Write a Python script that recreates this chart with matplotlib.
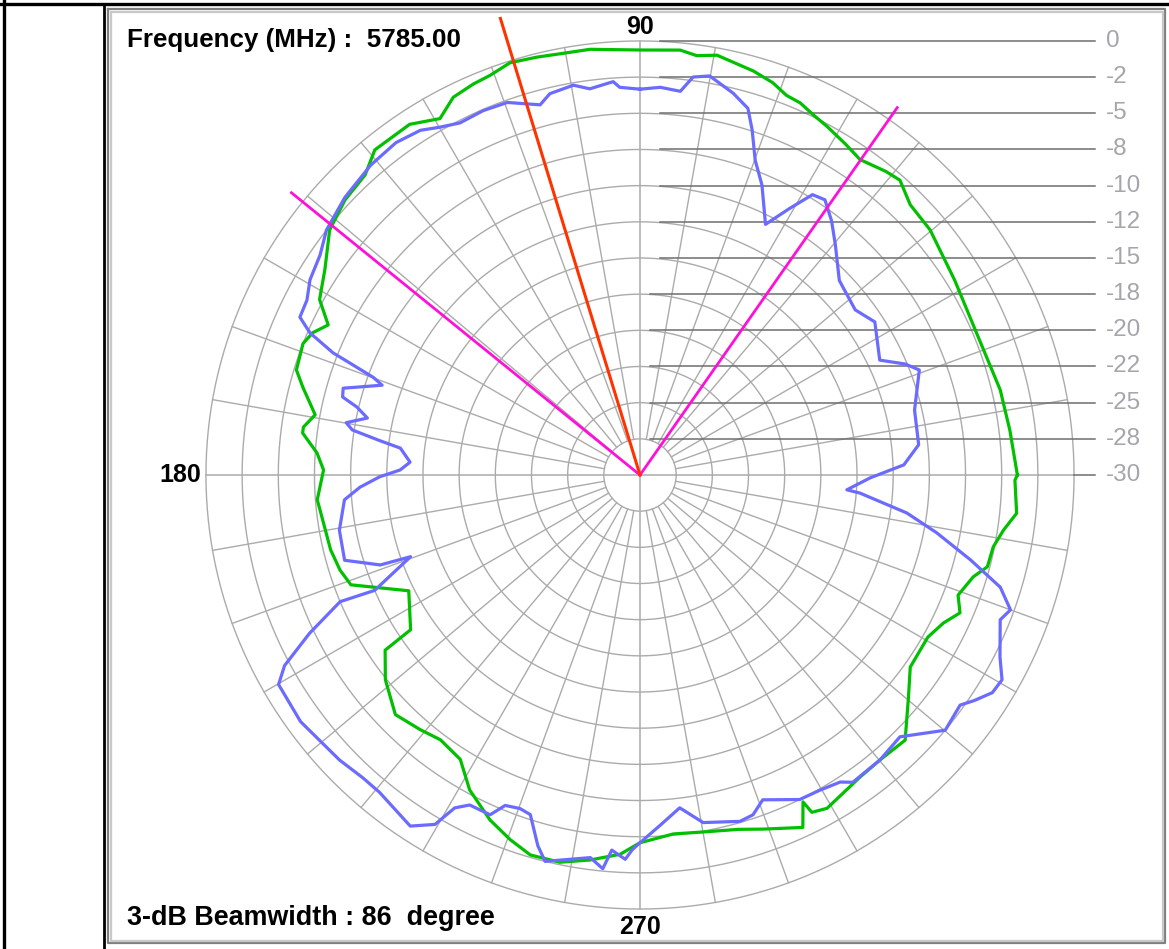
import numpy as np
import matplotlib.pyplot as plt
from matplotlib.lines import Line2D

plt.rcParams['font.family'] = ['Liberation Sans', 'DejaVu Sans']

# 동심원 눈금 (바깥 -> 중심)
ring_db = [0, -2, -5, -8, -10, -12, -15, -18, -20, -22, -25, -28, -30]
angle_labels = [90, 180, 270]

freq_mhz = 5785.00
beam_right = 55
beamwidth = 86
peak_angle = 107

# 측정 패턴 1 (초록)
green_ang = [0, 6.9, 13.3, 23.4, 31.8, 40.2, 45, 48.6, 51, 55.1, 58.1, 61.7, 64.3, 66.7, 68.9,
             71.3, 74.3, 77.3, 79.6, 82.3, 84.6, 90, 96.7, 100.3, 103.9, 107.5, 110.6, 113.1,
             116.3, 119.3, 123.3, 129.2, 132.5, 137, 141.7, 146.9, 151.3, 154.3, 156.5, 158.7,
             163, 165.4, 169.5, 171.9, 172.9, 176.1, 179.1, 184.4, 186.2, 193.6, 197.6, 200.8,
             206.6, 214, 214.5, 218.8, 224.4, 229.2, 233, 237.7, 241.6, 246.5, 250.4, 253.9,
             258.3, 262.6, 267, 270, 275.3, 280.6, 285.5, 289.2, 294.8, 296.5, 297, 299.3, 306,
             310.1, 315, 320.4, 324.6, 330.6, 334, 336.7, 339.3, 343, 345.2, 348.5, 351.4,
             354.2, 359.2, 360]
green_db = [-3.7, -4.1, -4.3, -4.7, -4.3, -3.5, -3.3, -2.4, -2.6, -3.1, -2.7, -2.2, -1.9, -1.6, -1.5,
            -1.1, -0.8, -0.6, -0.4, -0.6, -0.4, -0.5, -0.3, -0.3, -0.2, -0.1, -0.4, -0.5,
            -0.7, -1.4, -0.8, -0.8, -1.5, -1.7, -2.2, -3.8, -4.7, -6.3, -5.4, -5.0,
            -5.2, -6.1, -7.6, -6.8, -6.8, -8.1, -8.5, -8.1, -8.2, -8.4, -8.6, -8.9,
            -11.7, -10.7, -8.9, -7.9, -6.6, -7.1, -7.5, -7.1, -5.3, -3.8, -2.9, -2.2,
            -2.2, -2.8, -3.5, -4.5, -5.1, -4.9, -4.5, -3.9, -2.8, -4.7, -3.6, -3.3, -4.0,
            -4.1, -3.9, -6.1, -7.5, -7.6, -7.0, -6.1, -6.8, -6.1, -5.2, -5.1, -4.5,
            -3.6, -3.9, -3.7]

# 측정 패턴 2 (파랑)
blue_ang = [90, 87, 84, 82.4, 80.1, 76.3, 73.6, 72, 69.9, 67.2, 63.4, 60.7, 58.4, 56.1, 53,
            49.7, 44.3, 37.5, 33.1, 25.6, 22.7, 20.6, 13.3, 6.2, 2.2, 359.3, 355.9, 355.3,
            351.9, 349, 345.6, 342.7, 340, 338.1, 333.2, 330.5, 328.3, 326, 324.3, 320.1,
            314.8, 310.1, 304.7, 303.1, 299.7, 296.2, 290.7, 288.4, 286.1, 280.3, 276.8,
            273.3, 270, 268.8, 267.8, 265.7, 264.6, 262.6, 256.2, 254.6, 252.1, 250.2, 247.8,
            246.2, 242.7, 240.9, 239.6, 236.8, 230.6, 227.5, 223.5, 216, 210.1, 208.2, 205.6,
            202.9, 203.5, 199.6, 199.1, 196.1, 190.4, 184.8, 182.5, 180.4, 178.8, 176.8,
            173.6, 172.4, 171.1, 169.9, 168.2, 166.5, 165.3, 163.7, 160.8, 159.9, 158.9,
            158.3, 156.7, 155.1, 152.3, 149.4, 145.5, 142, 136.8, 131, 126.3, 122.5, 120,
            117.1, 113.3, 109.6, 105.1, 103.3, 99.7, 97.4, 93.9, 93, 90]
blue_db = [-3.0, -2.8, -3.0, -1.8, -1.6, -2.4, -3.3, -4.9, -7.2, -8.6, -10.5, -9.1, -7.7, -7.5, -8.4,
           -9.3, -10.6, -11.0, -10.5, -11.3, -10.1, -9.5, -10.4, -10.5, -11.4, -13.9, -15.8, -14.7,
           -11.1, -9.3, -6.7, -3.7, -2.3, -2.8, -1.7, -1.0, -1.1, -1.7, -2.3, -2.0,
           -4.4, -4.1, -4.0, -4.6, -4.9, -5.0, -6.2, -5.3, -5.1, -5.7, -7.2,
           -5.9, -4.5, -3.9, -3.1, -3.8, -2.2, -3.0, -2.0, -3.1, -5.4, -5.6, -5.4,
           -4.2, -4.2, -3.4, -1.6, -0.8, -1.3, -1.3, -1.1, -0.8, -0.9, -1.7, -4.6,
           -8.0, -10.0, -12.8, -10.8, -9.0, -9.1, -9.6, -10.5, -11.6, -13.1, -13.9,
           -13.0, -11.4, -9.9, -9.5, -10.6, -9.9, -9.0, -8.9, -10.9, -10.3, -8.8,
           -7.6, -5.2, -3.9, -3.8, -3.2, -2.8, -2.0, -1.6, -1.3, -1.2, -1.4, -1.8,
           -2.2, -2.1, -2.2, -3.2, -2.5, -2.2, -2.7, -2.3, -2.8, -3.0]

W, H = 1169, 949
CX, CY = 640, 475
STEP = 36.17          # 링 한 칸의 픽셀 크기
N = len(ring_db) - 1  # 바깥 링 번호

db_up = ring_db[::-1]
lvl_up = list(range(N + 1))


def to_level(db):
    return np.interp(db, db_up, lvl_up)


def polar_xy(ang, lvl):
    a = np.radians(ang)
    return lvl * np.cos(a), lvl * np.sin(a)


def fx(x):
    return x / W


def fy(y):
    return 1 - y / H


fig = plt.figure(figsize=(W / 100, H / 100), dpi=100)
fig.patch.set_facecolor('white')

# 창 테두리
fig.add_artist(Line2D([0, 1], [fy(4), fy(4)], color='black', lw=2.4))
fig.add_artist(Line2D([fx(4), fx(4)], [0, 1], color='black', lw=2.4))
fig.add_artist(Line2D([fx(104), fx(104)], [0, fy(4)], color='black', lw=2.0))
for off, col in [(0, '#808080'), (2.5, '#c8c8c8')]:
    x0, x1 = 108 + off, 1165 - off
    y0, y1 = 9 + off, 943 - off
    fig.add_artist(Line2D([fx(x0), fx(x1), fx(x1), fx(x0), fx(x0)],
                          [fy(y0), fy(y0), fy(y1), fy(y1), fy(y0)], color=col, lw=1.6))

ax = fig.add_axes([0, 0, 1, 1])
ax.set_xlim(-CX / STEP, (W - CX) / STEP)
ax.set_ylim(-(H - CY) / STEP, CY / STEP)
ax.set_axis_off()

grid_c = '#ababab'
t = np.linspace(0, 2 * np.pi, 721)
for k in range(1, N + 1):
    ax.plot(k * np.cos(t), k * np.sin(t), color=grid_c, lw=1.0, zorder=1)
for a in range(0, 360, 10):
    if a % 90 == 0:
        continue
    x, y = polar_xy(a, np.array([1, N]))
    ax.plot(x, y, color=grid_c, lw=1.0, zorder=1)
ax.plot([-N, N], [0, 0], color=grid_c, lw=1.1, zorder=1)
ax.plot([0, 0], [-N, N], color=grid_c, lw=1.1, zorder=1)

# 오른쪽 dB 눈금선
for i, db in enumerate(ring_db):
    lvl = N - i
    x_start = 0.55 if lvl >= 6 else 0.28
    if lvl == 0:
        x_start = N
    ax.plot([x_start, (1095 - CX) / STEP], [lvl, lvl], color='#6e6e6e', lw=1.1, zorder=2)
    ax.text((1106 - CX) / STEP, lvl, f'{db}', color='#a5a5ac', fontsize=17.5,
            ha='left', va='center')

# 측정 패턴
gx, gy = polar_xy(np.array(green_ang), to_level(np.array(green_db)))
ax.plot(gx, gy, color='#00c000', lw=2.3, zorder=4)
bx, by = polar_xy(np.array(blue_ang), to_level(np.array(blue_db)))
ax.plot(bx, by, color='#6b6bff', lw=2.3, zorder=4)

# 3dB 빔폭 경계와 최대 방향
for a in [beam_right, beam_right + beamwidth]:
    x, y = polar_xy(a, np.array([0, 12.4]))
    ax.plot(x, y, color='#ff10d8', lw=2.0, zorder=5)
x, y = polar_xy(peak_angle, np.array([0, 13.2]))
ax.plot(x, y, color='#ff3300', lw=2.2, zorder=6)

# 각도 라벨
lab = dict(fontsize=18, fontweight='bold')
ax.text(0, N + 0.38, str(angle_labels[0]), ha='center', va='center', **lab)
ax.text(-N - 0.12, 0, str(angle_labels[1]), ha='right', va='center', **lab)
ax.text(0, -N - 0.5, str(angle_labels[2]), ha='center', va='center', **lab)

fig.text(fx(127), fy(40), f'Frequency (MHz) :  {freq_mhz:.2f}', fontsize=18.7,
         fontweight='bold', ha='left', va='center')
fig.text(fx(127), fy(918), f'3-dB Beamwidth : {beamwidth}  degree', fontsize=19.4,
         fontweight='bold', ha='left', va='center')

fig.savefig('out.png', dpi=100)
